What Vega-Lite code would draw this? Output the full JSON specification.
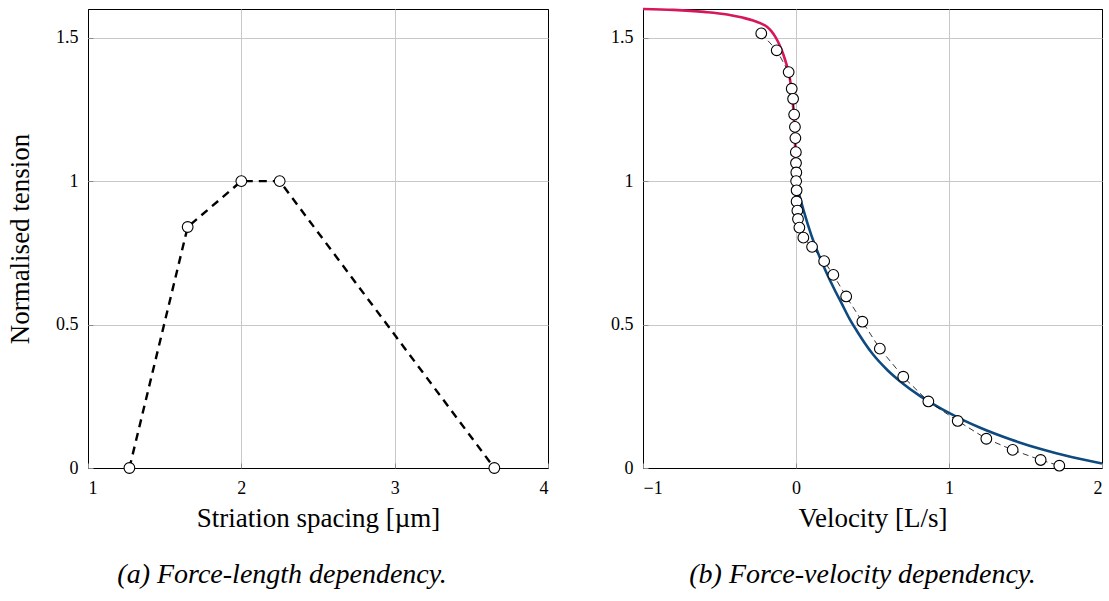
{
  "$schema": "https://vega.github.io/schema/vega-lite/v6.json",
  "background": "white",
  "padding": {"left": 6, "top": 3, "right": 2, "bottom": 2},
  "bounds": "flush",
  "spacing": 95,
  "config": {
    "font": "'Liberation Serif', 'DejaVu Serif', serif",
    "view": {"stroke": "black", "strokeWidth": 1},
    "axis": {
      "grid": true,
      "gridColor": "#c8c8c8",
      "gridWidth": 1,
      "domain": false,
      "ticks": true,
      "tickSize": -5,
      "tickColor": "#8a8a8a",
      "labelFont": "'Liberation Serif', 'DejaVu Serif', serif",
      "labelFontSize": 18,
      "labelColor": "black",
      "titleFont": "'Liberation Serif', 'DejaVu Serif', serif",
      "titleFontSize": 27,
      "titleFontWeight": "normal",
      "titleColor": "black"
    },
    "axisX": {"labelPadding": 16, "titlePadding": 8},
    "axisY": {"labelPadding": 15, "titlePadding": 21},
    "title": {"font": "'Liberation Serif', 'DejaVu Serif', serif", "fontSize": 28, "fontStyle": "italic", "fontWeight": "normal", "color": "black"}
  },
  "datasets": {
    "fl": [
      {"s": 1.27, "T": 0},
      {"s": 1.65, "T": 0.84},
      {"s": 2.0, "T": 1.0},
      {"s": 2.25, "T": 1.0},
      {"s": 3.65, "T": 0}
    ],
    "pts": [
      {"v": -0.227, "F": 1.515},
      {"v": -0.126, "F": 1.456},
      {"v": -0.048, "F": 1.38},
      {"v": -0.028, "F": 1.322},
      {"v": -0.019, "F": 1.287},
      {"v": -0.012, "F": 1.232},
      {"v": -0.007, "F": 1.189},
      {"v": -0.004, "F": 1.15},
      {"v": -0.001, "F": 1.101},
      {"v": 0.0, "F": 1.063},
      {"v": 0.002, "F": 1.03},
      {"v": 0.001, "F": 1.0},
      {"v": 0.004, "F": 0.968},
      {"v": 0.004, "F": 0.929},
      {"v": 0.009, "F": 0.897},
      {"v": 0.013, "F": 0.868},
      {"v": 0.022, "F": 0.838},
      {"v": 0.048, "F": 0.803},
      {"v": 0.105, "F": 0.771},
      {"v": 0.184, "F": 0.721},
      {"v": 0.244, "F": 0.673},
      {"v": 0.328, "F": 0.598},
      {"v": 0.434, "F": 0.51},
      {"v": 0.548, "F": 0.416},
      {"v": 0.701, "F": 0.318},
      {"v": 0.865, "F": 0.232},
      {"v": 1.057, "F": 0.164},
      {"v": 1.244, "F": 0.102},
      {"v": 1.416, "F": 0.063},
      {"v": 1.599, "F": 0.028},
      {"v": 1.721, "F": 0.008}
    ],
    "ecc": [
      {"v": -1.0, "F": 1.6},
      {"v": -0.8, "F": 1.597},
      {"v": -0.6, "F": 1.59},
      {"v": -0.45, "F": 1.581},
      {"v": -0.35, "F": 1.57},
      {"v": -0.28, "F": 1.56},
      {"v": -0.23, "F": 1.55},
      {"v": -0.19, "F": 1.538},
      {"v": -0.16, "F": 1.522},
      {"v": -0.135, "F": 1.503},
      {"v": -0.116, "F": 1.484},
      {"v": -0.1, "F": 1.465},
      {"v": -0.085, "F": 1.445},
      {"v": -0.072, "F": 1.424},
      {"v": -0.06, "F": 1.403},
      {"v": -0.05, "F": 1.385},
      {"v": -0.035, "F": 1.34},
      {"v": -0.022, "F": 1.282},
      {"v": -0.013, "F": 1.213},
      {"v": -0.007, "F": 1.143},
      {"v": -0.003, "F": 1.07},
      {"v": 0.0, "F": 1.0}
    ],
    "con": [
      {"v": 0.0, "F": 1.0},
      {"v": 0.02, "F": 0.956},
      {"v": 0.05, "F": 0.897},
      {"v": 0.1, "F": 0.812},
      {"v": 0.15, "F": 0.742},
      {"v": 0.2, "F": 0.68},
      {"v": 0.25, "F": 0.624},
      {"v": 0.3, "F": 0.572},
      {"v": 0.35, "F": 0.52},
      {"v": 0.4, "F": 0.476},
      {"v": 0.45, "F": 0.435},
      {"v": 0.5, "F": 0.398},
      {"v": 0.6, "F": 0.34},
      {"v": 0.7, "F": 0.294},
      {"v": 0.8, "F": 0.255},
      {"v": 0.9, "F": 0.222},
      {"v": 1.0, "F": 0.192},
      {"v": 1.1, "F": 0.165},
      {"v": 1.2, "F": 0.141},
      {"v": 1.4, "F": 0.1},
      {"v": 1.6, "F": 0.066},
      {"v": 1.8, "F": 0.038},
      {"v": 2.0, "F": 0.016}
    ]
  },
  "hconcat": [
    {
      "width": 460,
      "height": 459,
      "title": {"text": "(a) Force-length dependency.", "orient": "bottom", "offset": 30, "dx": -36},
      "layer": [
        {
          "data": {"name": "fl"},
          "mark": {"type": "line", "color": "black", "strokeWidth": 2.4, "strokeDash": [8, 6]},
          "encoding": {
            "x": {"field": "s", "type": "quantitative", "scale": {"domain": [1, 4], "nice": false, "zero": false},
              "axis": {"values": [1, 2, 3, 4], "format": "~g", "title": "Striation spacing [µm]",
                "gridColor": {"condition": {"test": "datum.value == 1 || datum.value == 4", "value": "black"}, "value": "#c8c8c8"}}},
            "y": {"field": "T", "type": "quantitative", "scale": {"domain": [0, 1.6], "nice": false},
              "axis": {"values": [0, 0.5, 1, 1.5], "format": "~g", "title": "Normalised tension",
                "gridColor": {"condition": {"test": "datum.value == 0", "value": "black"}, "value": "#c8c8c8"}}}
          }
        },
        {
          "data": {"name": "fl"},
          "mark": {"type": "point", "shape": "circle", "filled": true, "fill": "white", "stroke": "black", "strokeWidth": 1.1, "size": 115, "opacity": 1},
          "encoding": {
            "x": {"field": "s", "type": "quantitative"},
            "y": {"field": "T", "type": "quantitative"}
          }
        }
      ]
    },
    {
      "width": 459,
      "height": 459,
      "title": {"text": "(b) Force-velocity dependency.", "orient": "bottom", "offset": 30, "dx": -10},
      "layer": [
        {
          "data": {"name": "ecc"},
          "mark": {"type": "line", "color": "#d6175c", "strokeWidth": 2.6, "interpolate": "monotone"},
          "encoding": {
            "x": {"field": "v", "type": "quantitative", "scale": {"domain": [-1, 2], "nice": false, "zero": false},
              "axis": {"values": [-1, 0, 1, 2], "format": "~g", "title": "Velocity [L/s]",
                "gridColor": {"condition": {"test": "datum.value == -1 || datum.value == 2", "value": "black"}, "value": "#c8c8c8"}}},
            "y": {"field": "F", "type": "quantitative", "scale": {"domain": [0, 1.6], "nice": false},
              "axis": {"values": [0, 0.5, 1, 1.5], "format": "~g", "title": null,
                "gridColor": {"condition": {"test": "datum.value == 0", "value": "black"}, "value": "#c8c8c8"}}}
          }
        },
        {
          "data": {"name": "con"},
          "mark": {"type": "line", "color": "#0d4a80", "strokeWidth": 2.6, "interpolate": "monotone"},
          "encoding": {
            "x": {"field": "v", "type": "quantitative"},
            "y": {"field": "F", "type": "quantitative"}
          }
        },
        {
          "data": {"name": "pts"},
          "mark": {"type": "line", "color": "black", "strokeWidth": 0.8, "strokeDash": [6, 4]},
          "encoding": {
            "x": {"field": "v", "type": "quantitative"},
            "y": {"field": "F", "type": "quantitative"},
            "order": {"field": "F", "sort": "descending"}
          }
        },
        {
          "data": {"name": "pts"},
          "mark": {"type": "point", "shape": "circle", "filled": true, "fill": "white", "stroke": "black", "strokeWidth": 1.1, "size": 115, "opacity": 1},
          "encoding": {
            "x": {"field": "v", "type": "quantitative"},
            "y": {"field": "F", "type": "quantitative"}
          }
        }
      ]
    }
  ]
}
